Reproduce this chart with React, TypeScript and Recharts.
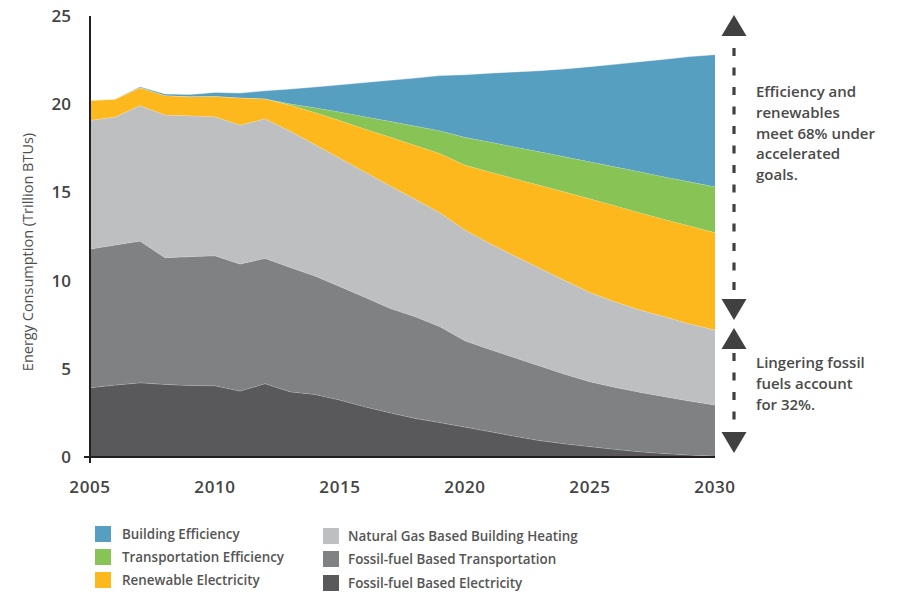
import React from "react";
import { AreaChart, Area, XAxis, YAxis } from "recharts";

const years = [
  2005, 2006, 2007, 2008, 2009, 2010, 2011, 2012, 2013, 2014, 2015, 2016, 2017,
  2018, 2019, 2020, 2021, 2022, 2023, 2024, 2025, 2026, 2027, 2028, 2029, 2030,
];

// stacked from the bottom up
const fossilElectricity = [
  3.93, 4.08, 4.21, 4.12, 4.06, 4.04, 3.74, 4.16, 3.7, 3.55, 3.23, 2.85, 2.51,
  2.19, 1.95, 1.7, 1.44, 1.18, 0.93, 0.75, 0.59, 0.44, 0.3, 0.2, 0.12, 0.05,
];
const fossilTransport = [
  7.86, 7.94, 8.03, 7.18, 7.3, 7.37, 7.2, 7.1, 7.05, 6.71, 6.43, 6.2, 5.92,
  5.77, 5.44, 4.89, 4.66, 4.45, 4.23, 3.94, 3.68, 3.51, 3.37, 3.22, 3.05, 2.9,
];
const gasHeating = [
  7.3, 7.25, 7.68, 8.09, 7.99, 7.88, 7.88, 7.92, 7.73, 7.45, 7.27, 7.11, 6.95,
  6.66, 6.46, 6.28, 6.01, 5.76, 5.54, 5.31, 5.05, 4.85, 4.66, 4.53, 4.37, 4.25,
];
const renewable = [
  1.13, 1.02, 1.02, 1.11, 1.08, 1.16, 1.55, 1.13, 1.47, 1.82, 2.14, 2.44, 2.76,
  3.06, 3.36, 3.68, 4.05, 4.39, 4.7, 5.02, 5.32, 5.45, 5.52, 5.52, 5.56, 5.52,
];
const transportEff = [
  0, 0, 0, 0, 0, 0, 0, 0, 0.07, 0.27, 0.49, 0.69, 0.89, 1.08, 1.29, 1.57, 1.7,
  1.8, 1.9, 2.0, 2.1, 2.2, 2.32, 2.41, 2.5, 2.6,
];
const buildingEff = [
  0, 0, 0.05, 0.08, 0.12, 0.22, 0.26, 0.45, 0.84, 1.18, 1.54, 1.94, 2.33, 2.72,
  3.12, 3.55, 3.9, 4.25, 4.6, 4.98, 5.39, 5.81, 6.24, 6.67, 7.1, 7.49,
];

const xTicks = [2005, 2010, 2015, 2020, 2025, 2030];
const yTicks = [0, 5, 10, 15, 20, 25];

const series = [
  { key: "fe", name: "Fossil-fuel Based Electricity", color: "#59585a", values: fossilElectricity },
  { key: "ft", name: "Fossil-fuel Based Transportation", color: "#808183", values: fossilTransport },
  { key: "gh", name: "Natural Gas Based Building Heating", color: "#bebfc1", values: gasHeating },
  { key: "re", name: "Renewable Electricity", color: "#fcb81d", values: renewable },
  { key: "te", name: "Transportation Efficiency", color: "#87c455", values: transportEff },
  { key: "be", name: "Building Efficiency", color: "#569fc1", values: buildingEff },
];

const data = years.map((year, i) => {
  const row: Record<string, number> = { year };
  series.forEach((s) => (row[s.key] = s.values[i]));
  return row;
});

const font = "'Open Sans', sans-serif";
const axisColor = "#231f20";

const YTick = (props: any) => {
  const { y, payload } = props;
  return (
    <g>
      {payload.value === 0 && (
        <line x1={84} x2={90} y1={y} y2={y} stroke={axisColor} strokeWidth={2} />
      )}
      <text
        x={71}
        y={y + 6}
        textAnchor="end"
        fontFamily={font}
        fontWeight={600}
        fontSize={17}
        fill="#444"
      >
        {payload.value}
      </text>
    </g>
  );
};

const XTick = (props: any) => {
  const { x, payload } = props;
  return (
    <g>
      {payload.value === 2005 && (
        <line x1={x} x2={x} y1={457} y2={463} stroke={axisColor} strokeWidth={2} />
      )}
      <text
        x={x}
        y={493}
        textAnchor="middle"
        fontFamily={font}
        fontWeight={600}
        fontSize={17}
        letterSpacing={0.6}
        fill="#444"
      >
        {payload.value}
      </text>
    </g>
  );
};

const legendLeft = ["Building Efficiency", "Transportation Efficiency", "Renewable Electricity"];
const legendRight = [
  "Natural Gas Based Building Heating",
  "Fossil-fuel Based Transportation",
  "Fossil-fuel Based Electricity",
];
const colorOf = (name: string) => series.find((s) => s.name === name)!.color;

const arrowColor = "#404040";

export default function App() {
  return (
    <div style={{ position: "absolute", left: 0, top: 0, width: 899, height: 592, background: "#fff" }}>
      <AreaChart
        width={899}
        height={592}
        data={data}
        margin={{ top: 16, right: 184, bottom: 105, left: 0 }}
      >
        <XAxis
          dataKey="year"
          type="number"
          domain={[2005, 2030]}
          ticks={xTicks}
          tickLine={false}
          axisLine={{ stroke: axisColor, strokeWidth: 2 }}
          tick={<XTick />}
          height={30}
        />
        <YAxis
          type="number"
          domain={[0, 25]}
          ticks={yTicks}
          width={90}
          tickLine={false}
          axisLine={{ stroke: axisColor, strokeWidth: 2 }}
          tick={<YTick />}
        />
        {series.map((s) => (
          <Area
            key={s.key}
            dataKey={s.key}
            name={s.name}
            type="linear"
            stackId="1"
            fill={s.color}
            fillOpacity={1}
            stroke="#ffffff"
            strokeOpacity={0.55}
            strokeWidth={0.7}
            isAnimationActive={false}
          />
        ))}
      </AreaChart>

      <svg
        width={899}
        height={592}
        style={{ position: "absolute", left: 0, top: 0, pointerEvents: "none" }}
      >
        <line x1={90} x2={90} y1={457} y2={463} stroke={axisColor} strokeWidth={2} />
        <text
          transform="translate(33,252) rotate(-90)"
          textAnchor="middle"
          fontFamily={font}
          fontSize={14.5}
          fill="#4f4f4f"
        >
          Energy Consumption (Trillion BTUs)
        </text>

        <polygon points="734,15 721.5,36 746.5,36" fill={arrowColor} />
        <line x1={734} x2={734} y1={48} y2={292} stroke={arrowColor} strokeWidth={3.2} strokeDasharray="8 11.5" />
        <polygon points="721.5,299 746.5,299 734,320" fill={arrowColor} />

        <polygon points="734,328 721.5,349 746.5,349" fill={arrowColor} />
        <line x1={734} x2={734} y1={353} y2={430} stroke={arrowColor} strokeWidth={3.2} strokeDasharray="8 11.5" />
        <polygon points="721.5,432 746.5,432 734,453" fill={arrowColor} />

        <g fontFamily={font} fontWeight={600} fontSize={15} fill="#4a4a4a">
          {["Efficiency and", "renewables", "meet 68% under", "accelerated", "goals."].map((t, i) => (
            <text key={t} x={756} y={97 + i * 20.75}>
              {t}
            </text>
          ))}
          {["Lingering fossil", "fuels account", "for 32%."].map((t, i) => (
            <text key={t} x={756} y={368 + i * 20.75}>
              {t}
            </text>
          ))}
        </g>
      </svg>

      {legendLeft.map((name, i) => (
        <div
          key={name}
          style={{ position: "absolute", left: 95, top: 525 + i * 23, display: "flex", alignItems: "center" }}
        >
          <div style={{ width: 16, height: 16, background: colorOf(name) }} />
          <span style={{ marginLeft: 11, fontFamily: font, fontWeight: 600, fontSize: 13.4, color: "#555" }}>
            {name}
          </span>
        </div>
      ))}
      {legendRight.map((name, i) => (
        <div
          key={name}
          style={{ position: "absolute", left: 323, top: 527 + i * 23.3, display: "flex", alignItems: "center" }}
        >
          <div style={{ width: 16, height: 16, background: colorOf(name) }} />
          <span style={{ marginLeft: 9, fontFamily: font, fontWeight: 600, fontSize: 13.4, color: "#555" }}>
            {name}
          </span>
        </div>
      ))}
    </div>
  );
}
